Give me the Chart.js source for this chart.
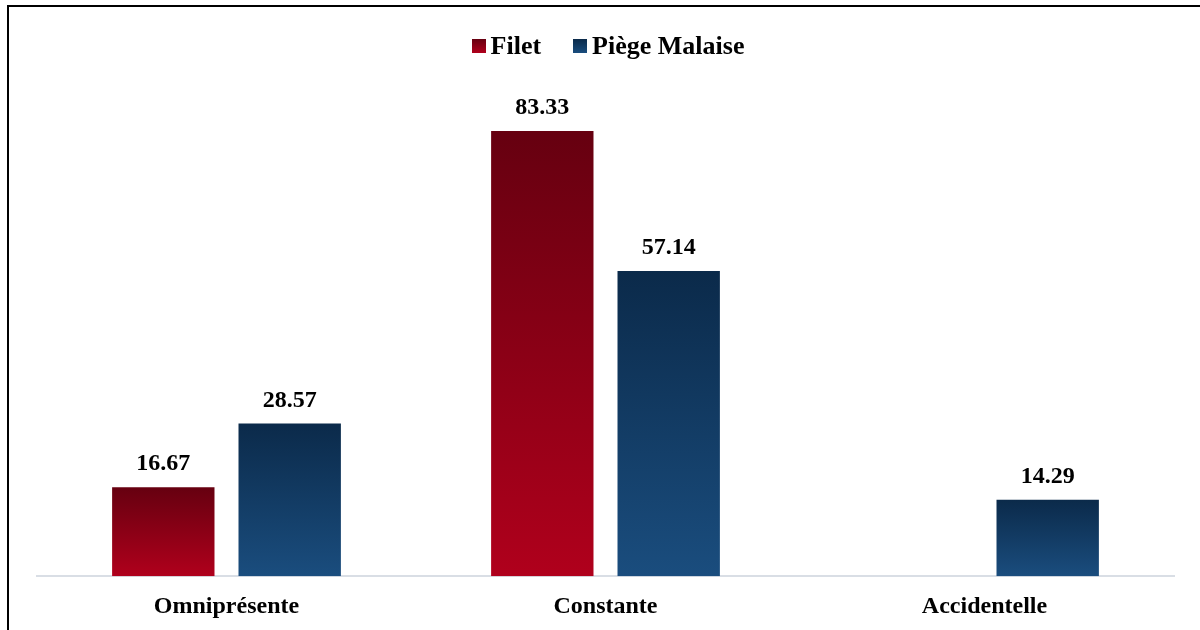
<!DOCTYPE html>
<html>
<head>
<meta charset="utf-8">
<script src="https://cdn.jsdelivr.net/npm/chart.js@4"></script>
<style>
  html, body { margin: 0; padding: 0; background: #fff; }
  #wrap { position: relative; width: 1200px; height: 630px; overflow: hidden; }
  #frame { position: absolute; left: 7px; top: 5px; width: 1300px; height: 700px;
           border-left: 2px solid #000; border-top: 2px solid #000; }
  #myChart { position: absolute; left: 0; top: 0; }
  #legend { position: absolute; left: 18px; width: 1180px; top: 31px; display: flex;
            justify-content: center; align-items: center;
            font-family: "Liberation Serif", "Times New Roman", serif; font-weight: bold; font-size: 26px; }
  .item { display: flex; align-items: center; margin: 0 16px; }
  .box { width: 14px; height: 14px; margin-right: 5px; }
</style>
</head>
<body>
<div id="wrap">
  <div id="frame"></div>
  <canvas id="myChart" width="1200" height="637"></canvas>
  <div id="legend"></div>
</div>
<script>
const categories = ['Omniprésente', 'Constante', 'Accidentelle'];
const filet = [16.67, 83.33, 0];
const piege = [28.57, 57.14, 14.29];
const seriesNames = ['Filet', 'Piège Malaise'];
const redStops = ['#660010', '#b0001c'];
const blueStops = ['#0b2a4a', '#1a4d7e'];

const barGradient = (stops) => (context) => {
  const chart = context.chart
  const area = chart.chartArea
  if (!area || context.raw == null) return stops[1]
  const y = chart.scales.y
  const top = y.getPixelForValue(context.raw)
  const bottom = y.getPixelForValue(0)
  if (bottom - top < 1) return stops[1]
  const g = chart.ctx.createLinearGradient(0, top, 0, bottom)
  g.addColorStop(0, stops[0])
  g.addColorStop(1, stops[1])
  return g
}

// value labels above each bar
const valueLabels = {
  id: 'valueLabels',
  afterDatasetsDraw(chart) {
    const c = chart.ctx
    c.save()
    c.font = 'bold 24px "Liberation Serif", "Times New Roman", serif'
    c.fillStyle = '#000'
    c.textAlign = 'center'
    c.textBaseline = 'alphabetic'
    chart.data.datasets.forEach((ds, i) => {
      chart.getDatasetMeta(i).data.forEach((bar, j) => {
        const v = ds.data[j]
        if (!v) return
        c.fillText(v.toFixed(2), bar.x, bar.y - 17)
      })
    })
    c.restore()
  }
}

const legendEl = document.getElementById('legend')
;[redStops, blueStops].forEach((stops, i) => {
  const item = document.createElement('div')
  item.className = 'item'
  const box = document.createElement('span')
  box.className = 'box'
  box.style.background = 'linear-gradient(' + stops[0] + ',' + stops[1] + ')'
  const txt = document.createElement('span')
  txt.textContent = seriesNames[i]
  item.appendChild(box)
  item.appendChild(txt)
  legendEl.appendChild(item)
})

const ctx = document.getElementById('myChart').getContext('2d');
new Chart(ctx, {
  type: 'bar',
  data: {
    labels: categories,
    datasets: [
      { label: seriesNames[0], data: filet, backgroundColor: barGradient(redStops) },
      { label: seriesNames[1], data: piege, backgroundColor: barGradient(blueStops) }
    ]
  },
  options: {
    responsive: false,
    animation: false,
    events: [],
    categoryPercentage: 0.667,
    barPercentage: 0.81,
    layout: { padding: { top: 42, left: 37, right: 26, bottom: 0 } },
    plugins: { legend: { display: false }, tooltip: { enabled: false } },
    scales: {
      x: {
        grid: { display: false, drawTicks: false },
        border: { display: true, color: '#d9dee5', width: 2 },
        ticks: {
          color: '#000',
          padding: 16,
          font: { family: '"Liberation Serif", "Times New Roman", serif', weight: 'bold', size: 24 }
        }
      },
      y: { display: false, min: 0, max: 100 }
    }
  },
  plugins: [valueLabels]
});
</script>
</body>
</html>
